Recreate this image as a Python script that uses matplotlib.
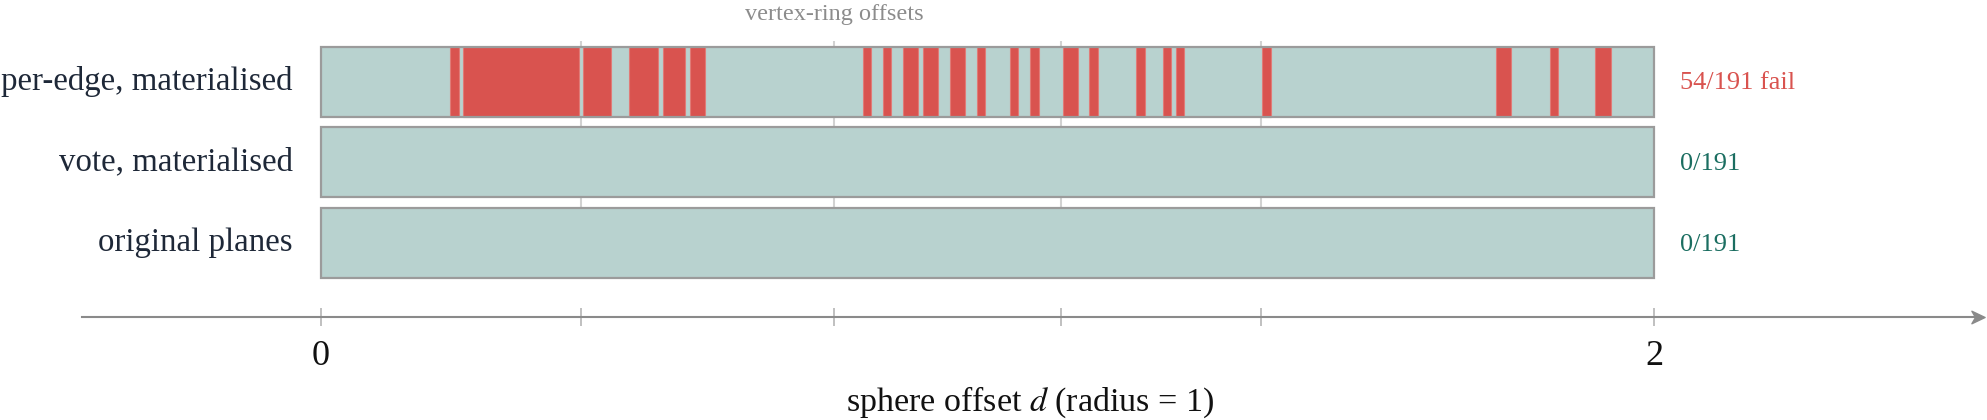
import matplotlib

matplotlib.use("Agg")
import matplotlib.pyplot as plt
import numpy as np
from matplotlib.path import Path

# rows, top to bottom, and their pass/fail tally
ROWS = ["per-edge, materialised", "vote, materialised", "original planes"]
RESULTS = ["54/191 fail", "0/191", "0/191"]
RESULT_FAILED = [True, False, False]

# failing runs of sphere offsets d on the per-edge row
FAIL_START = np.array([0.1944, 0.2130, 0.3939, 0.4629, 0.5139, 0.5540,
                       0.8139, 0.8439, 0.8739, 0.9039, 0.9440, 0.9840,
                       1.0340, 1.0640, 1.1135, 1.1525, 1.2230, 1.2635,
                       1.2834, 1.4124, 1.7630, 1.8435, 1.9120])
FAIL_END = np.array([0.2075, 0.3875, 0.4359, 0.5060, 0.5465, 0.5760,
                     0.8259, 0.8559, 0.8960, 0.9260, 0.9660, 0.9960,
                     1.0460, 1.0770, 1.1355, 1.1655, 1.2360, 1.2755,
                     1.2954, 1.4255, 1.7850, 1.8564, 1.9355])

VERTEX_RING = [0.39, 0.77, 1.11, 1.41]   # offsets where a vertex ring sits
D_MAX = 2.0

TEAL = "#b8d2cf"
RED = "#d9534f"
RED_EDGE = "#e07b77"
OUTLINE = "#9b9b9b"
GRIDC = "#d2d2d2"
AXISC = "#8a8a8a"
NAVY = "#1e2838"
OKC = "#1b6e61"

plt.rcParams["font.family"] = "serif"
plt.rcParams["font.serif"] = ["Liberation Serif", "DejaVu Serif"]
plt.rcParams["mathtext.fontset"] = "stix"

W, H, DPI = 1987, 420, 100
fig = plt.figure(figsize=(W / DPI, H / DPI), dpi=DPI, facecolor="white")

# axes laid out in pixels: the number line sits at its bottom edge
x0, x1, yb = 82, 1978, 317.3
d0_px, d2_px = 320.7, 1654.0
row_px, pitch = 81.7, 80.75
ax = fig.add_axes([x0 / W, 1 - yb / H, (x1 - x0) / W, yb / H])
px_per_d = (d2_px - d0_px) / D_MAX
ax.set_xlim(-(d0_px - x0) / px_per_d, (x1 - d0_px) / px_per_d)
ax.set_ylim((yb - row_px) / pitch, -row_px / pitch)

ys = np.arange(len(ROWS))
BAR_H = 0.867

ax.vlines(VERTEX_RING, -0.5, ys[-1] - BAR_H / 2, color=GRIDC, lw=1.5,
          zorder=1)
ax.barh(ys, D_MAX, height=BAR_H, left=0, color=TEAL, lw=0, zorder=2)
ax.barh(np.zeros(len(FAIL_START)), FAIL_END - FAIL_START, left=FAIL_START,
        height=BAR_H, color=RED, edgecolor=RED_EDGE, lw=0.8, zorder=3)
ax.barh(ys, D_MAX, height=BAR_H, left=0, fill=False, edgecolor=OUTLINE,
        lw=1.6, zorder=4)

for y, lab, res, bad in zip(ys, ROWS, RESULTS, RESULT_FAILED):
    ax.annotate(lab, (0, y), xytext=(-20, 0), textcoords="offset points",
                ha="right", va="center", fontsize=23.7, color=NAVY)
    ax.annotate(res, (D_MAX, y), xytext=(18.7, -1.2),
                textcoords="offset points", ha="left", va="center",
                fontsize=19, color=RED if bad else OKC)

ax.annotate("vertex-ring offsets", (VERTEX_RING[1], -0.5), xytext=(0, 19),
            textcoords="offset points", ha="center", va="center",
            fontsize=17.5, color="#8c8c8c")

# number line with an arrowhead
for side in ("top", "right", "left"):
    ax.spines[side].set_visible(False)
ax.spines["bottom"].set_color(AXISC)
ax.spines["bottom"].set_linewidth(1.5)
ax.set_yticks([])
ticks = [0] + VERTEX_RING + [D_MAX]
ax.set_xticks(ticks)
ax.set_xticklabels(["0"] + [""] * len(VERTEX_RING) + ["2"])
ax.tick_params(axis="x", direction="inout", length=13, width=1.2,
               color="#b5b5b5", labelsize=26, pad=10, labelcolor="#111111")
stealth = Path([(-1, -0.95), (1, 0), (-1, 0.95), (-0.45, 0), (-1, -0.95)],
               [Path.MOVETO, Path.LINETO, Path.LINETO, Path.LINETO,
                Path.CLOSEPOLY])
ax.plot([1], [0], marker=stealth, ms=9.5, color=AXISC, mec=AXISC,
        transform=ax.transAxes, clip_on=False)
ax.set_xlabel("sphere offset $d$ (radius = 1)", fontsize=24.5,
              color="#111111", labelpad=8.5)

fig.savefig("out.png", dpi=DPI, facecolor="white")
